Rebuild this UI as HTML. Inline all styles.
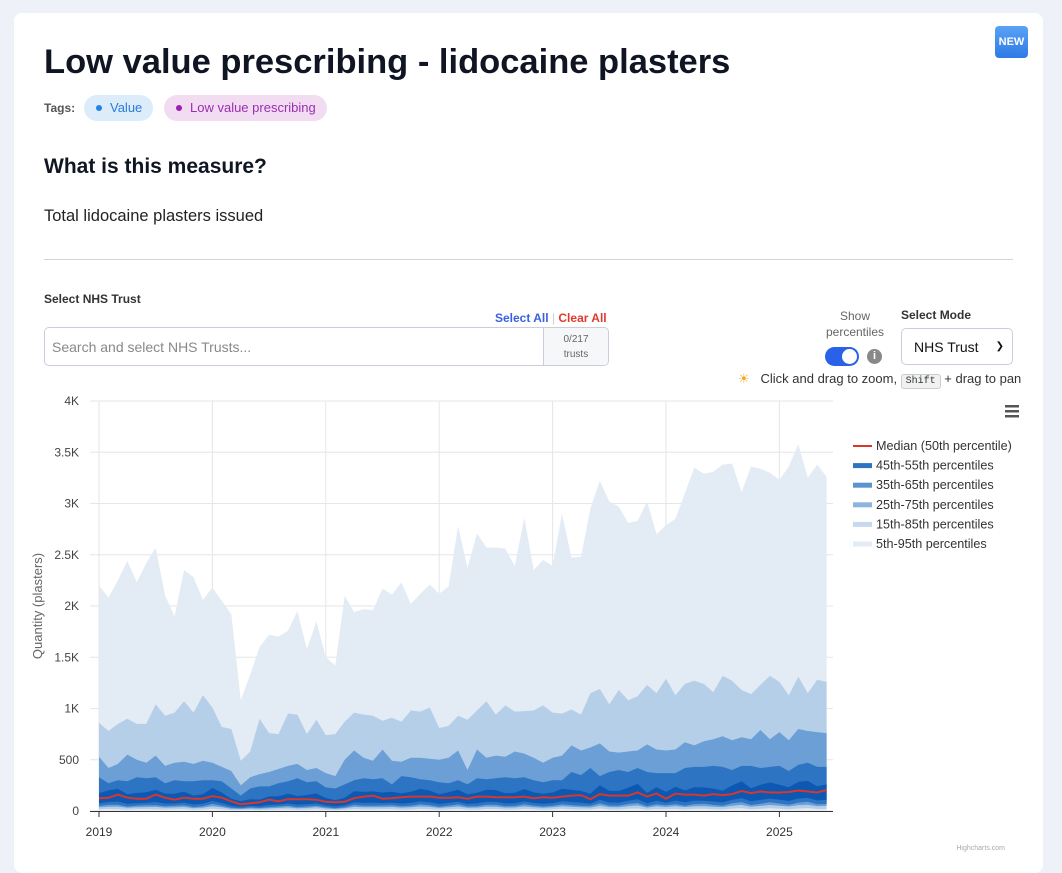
<!DOCTYPE html>
<html><head><meta charset="utf-8"><style>
*{box-sizing:border-box;margin:0;padding:0}
body{width:1062px;height:859px;overflow:hidden;background:#eef2f8;font-family:"Liberation Sans",sans-serif;color:#111}
.card{position:absolute;left:14px;top:13px;width:1029px;height:860px;background:#fff;border-radius:8px}
.abs{position:absolute;white-space:nowrap}
</style></head><body>
<div class="card"></div>
<div class="abs" style="left:995px;top:26px;width:33px;height:32px;background:linear-gradient(#5aa2f5,#2f7ae5);border-radius:4px;color:#fff;font-size:11px;font-weight:bold;text-align:center;line-height:32px">NEW</div>
<div class="abs" style="left:44px;top:43px;font-size:34.5px;font-weight:bold;color:#0f1523">Low value prescribing - lidocaine plasters</div>
<div class="abs" style="left:44px;top:101px;font-size:12px;color:#555;font-weight:bold">Tags:</div>
<div class="abs" style="left:84px;top:95px;height:26px;width:69px;border-radius:13px;background:#dcecfb;color:#2b7bd8;font-size:13px;line-height:26px;padding-left:12px"><span style="display:inline-block;width:6px;height:6px;border-radius:3px;background:#1f84e8;margin-right:8px;vertical-align:1px"></span>Value</div>
<div class="abs" style="left:164px;top:95px;height:26px;width:163px;border-radius:13px;background:#f2dcf2;color:#9a2fb0;font-size:13px;line-height:26px;padding-left:12px"><span style="display:inline-block;width:6px;height:6px;border-radius:3px;background:#9a1fb3;margin-right:8px;vertical-align:1px"></span>Low value prescribing</div>
<div class="abs" style="left:44px;top:155px;font-size:21px;font-weight:bold;color:#0f1523">What is this measure?</div>
<div class="abs" style="left:44px;top:207px;font-size:16.5px;color:#222">Total lidocaine plasters issued</div>
<div class="abs" style="left:44px;top:259px;width:969px;height:1px;background:#d4d4d4"></div>
<div class="abs" style="left:44px;top:292px;font-size:12px;font-weight:bold;color:#333">Select NHS Trust</div>
<div class="abs" style="left:495px;top:311px;font-size:12px;font-weight:bold;color:#3a62e0">Select All <span style="color:#ccc;font-weight:normal">|</span> <span style="color:#e03a2f">Clear All</span></div>
<div class="abs" style="left:44px;top:327px;width:565px;height:39px;border:1px solid #ccd;border-radius:5px"></div>
<div class="abs" style="left:52px;top:339px;font-size:14px;color:#888">Search and select NHS Trusts...</div>
<div class="abs" style="left:543px;top:328px;width:65px;height:37px;border-left:1px solid #ccd;background:#f6f7f9;border-radius:0 5px 5px 0;font-size:10px;color:#666;text-align:center;line-height:15px;padding-top:4px">0/217<br>trusts</div>
<div class="abs" style="left:815px;top:308px;width:80px;text-align:center;font-size:12px;color:#666;line-height:16px">Show<br>percentiles</div>
<div class="abs" style="left:825px;top:347px;width:34px;height:19px;border-radius:10px;background:#2962e8"><div style="position:absolute;right:2px;top:2px;width:15px;height:15px;border-radius:8px;background:#fff"></div></div>
<div class="abs" style="left:867px;top:349px;width:15px;height:15px;border-radius:8px;background:#888;color:#fff;font-size:11px;font-weight:bold;text-align:center;line-height:15px">i</div>
<div class="abs" style="left:901px;top:308px;font-size:12px;font-weight:bold;color:#333">Select Mode</div>
<div class="abs" style="left:901px;top:328px;width:112px;height:37px;border:1px solid #ccd;border-radius:5px;font-size:14px;line-height:36px;padding-left:12px;color:#111">NHS Trust<span style="position:absolute;right:8px;font-size:10px">&#10095;</span></div>
<div class="abs" style="left:738px;top:371px;font-size:13px;color:#333"><span style="color:#f5a623">&#9728;</span>&nbsp;&nbsp; Click and drag to zoom, <span style="font-family:'Liberation Mono',monospace;font-size:10px;background:#f0f1f3;border:1px solid #ccc;border-radius:3px;padding:1px 4px">Shift</span> + drag to pan</div>
<svg class="abs" style="left:0;top:0" width="1062" height="859" id="s"></svg>
<script>
var m95=[2200,2080,2250,2440,2230,2420,2570,2100,1900,2350,2280,2060,2180,2050,1920,1080,1330,1600,1720,1700,1760,1950,1580,1850,1500,1420,2100,1940,1970,1960,2170,2110,2230,2020,2120,2210,2120,2190,2780,2370,2710,2570,2570,2560,2390,2860,2350,2450,2390,2900,2470,2480,2950,3220,3020,2970,2810,2830,3020,2700,2790,2850,3100,3350,3290,3310,3380,3390,3110,3360,3340,3300,3230,3360,3580,3250,3380,3260];
var m85=[860,780,850,900,850,850,1040,930,960,1070,960,1130,1010,820,800,490,580,900,760,750,950,940,750,890,740,750,870,960,940,930,880,910,870,980,970,1010,810,830,930,890,980,1070,940,1030,970,975,980,1030,960,950,990,940,1150,1190,1040,1180,1080,1120,1230,1150,1290,1130,1240,1270,1240,1160,1320,1270,1180,1140,1230,1320,1260,1130,1310,1150,1280,1260];
var m75=[530,420,460,550,500,470,540,440,470,480,460,490,470,430,390,250,330,360,380,410,440,460,400,420,370,340,500,590,520,490,600,490,480,520,520,510,500,520,590,400,600,520,540,530,580,560,520,470,520,540,640,590,620,660,580,570,580,590,650,600,590,600,670,640,680,700,730,690,720,700,790,700,770,690,800,780,770,760];
var m65=[330,270,300,290,330,320,330,270,300,290,290,300,300,290,220,150,220,240,240,270,290,320,280,290,230,220,260,300,320,310,320,260,340,330,310,300,280,270,300,260,320,310,320,330,320,330,300,280,300,300,380,350,420,340,380,400,380,420,380,370,370,370,420,430,430,440,430,400,440,440,420,430,440,390,450,470,430,430];
var md=[125,130,160,130,120,120,160,130,110,130,120,120,145,130,95,65,75,85,110,95,115,115,115,110,90,85,90,125,140,150,120,125,135,140,140,140,130,130,135,120,140,140,135,135,135,140,125,135,130,140,150,155,115,165,150,150,150,180,140,170,120,170,160,160,150,165,155,165,195,175,190,180,180,185,200,190,180,205];
var N=md.length,S='';
function X(i){return 99+i*9.45}function Y(v){return 811-v*0.1025}
function band(hi,lo,c){var d='M';for(var i=0;i<N;i++)d+=X(i).toFixed(1)+','+Y(hi[i]).toFixed(1)+' L';for(i=N-1;i>=0;i--)d+=X(i).toFixed(1)+','+Y(lo[i]).toFixed(1)+(i?' L':'Z');S+='<path d="'+d+'" fill="'+c+'"/>';}
var m55=[],m45=[],m35=[],m25=[],m15=[],m5=[];
for(var i=0;i<N;i++){var r=Math.sin(i*1.7)*0.15;m55[i]=md[i]*(1.4+r);m45[i]=md[i]*(0.6+r*0.5);m35[i]=md[i]*(0.4+r*0.5);m25[i]=md[i]*(0.28+r*0.3);m15[i]=md[i]*(0.12+r*0.2);m5[i]=5;}
var yl=['0','500','1K','1.5K','2K','2.5K','3K','3.5K','4K'];
for(var k=0;k<9;k++){var y=Y(k*500);S+='<line x1="90" x2="833" y1="'+y+'" y2="'+y+'" stroke="#e6e6e6"/><text x="79" y="'+(y+4)+'" text-anchor="end" font-size="12" fill="#444">'+yl[k]+'</text>';}
for(k=0;k<7;k++){var x=99+k*113.4;S+='<line x1="'+x+'" x2="'+x+'" y1="401" y2="811" stroke="#e6e6e6"/><line x1="'+x+'" x2="'+x+'" y1="811" y2="817" stroke="#333"/><text x="'+x+'" y="836" text-anchor="middle" font-size="12" fill="#333">'+(2019+k)+'</text>';}
band(m95,m5,'#e3ebf5');band(m85,m15,'#b6cfe8');band(m75,m25,'#6b9fd5');band(m65,m35,'#2d75c2');band(m55,m45,'#0d58b3');
var d='M';for(i=0;i<N;i++)d+=X(i).toFixed(1)+','+Y(md[i]).toFixed(1)+(i<N-1?' L':'');
S+='<path d="'+d+'" fill="none" stroke="#d8372a" stroke-width="2"/>';
S+='<line x1="90" x2="833" y1="811.5" y2="811.5" stroke="#333"/>';
S+='<text transform="translate(42,606) rotate(-90)" text-anchor="middle" font-size="13" fill="#666">Quantity (plasters)</text>';
S+='<rect x="1005" y="405" width="14" height="2.5" fill="#555"/><rect x="1005" y="410" width="14" height="2.5" fill="#555"/><rect x="1005" y="415" width="14" height="2.5" fill="#555"/>';
var lg=[['Median (50th percentile)','#d8372a',2],['45th-55th percentiles','#2d75c2',5],['35th-65th percentiles','#5b93cf',5],['25th-75th percentiles','#8db4df',5],['15th-85th percentiles','#c6d9ee',5],['5th-95th percentiles','#e3ebf5',5]];
for(k=0;k<6;k++){var yy=446+k*19.6;S+='<rect x="853" y="'+(yy-lg[k][2]/2)+'" width="19" height="'+lg[k][2]+'" fill="'+lg[k][1]+'"/><text x="876" y="'+(yy+4)+'" font-size="12.6" fill="#333">'+lg[k][0]+'</text>';}
S+='<text x="1005" y="850" text-anchor="end" font-size="7" fill="#aaa">Highcharts.com</text>';
document.getElementById('s').innerHTML=S;
</script>
</body></html>
